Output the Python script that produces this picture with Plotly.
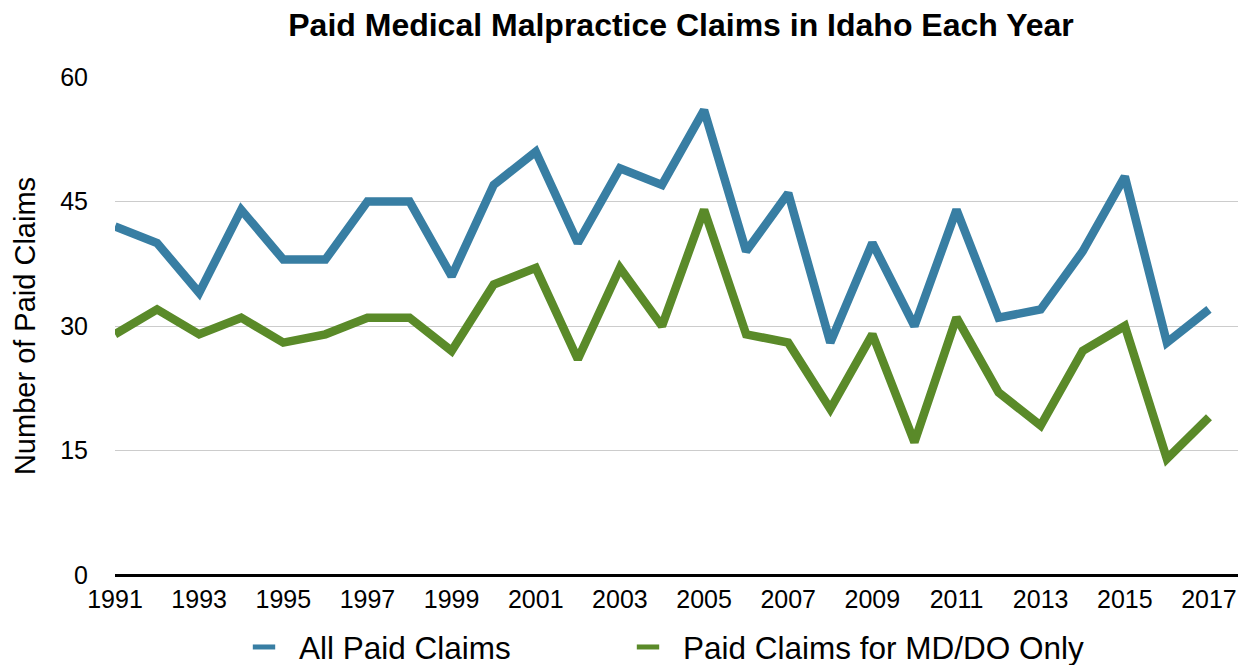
import plotly.graph_objects as go

years = list(range(1991, 2018))
all_claims = [42, 40, 34, 44, 38, 38, 45, 45, 36, 47, 51, 40, 49, 47, 56, 39, 46,
              28, 40, 30, 44, 31, 32, 39, 48, 28, 32]
md_do_claims = [29, 32, 29, 31, 28, 29, 31, 31, 27, 35, 37, 26, 37, 30, 44, 29, 28,
                20, 29, 16, 31, 22, 18, 27, 30, 14, 19]
y_ticks = [0, 15, 30, 45, 60]
x_ticks = list(range(1991, 2018, 2))

BLUE = "#387ea3"
GREEN = "#5a8a29"
FONT = "Liberation Sans, Arial, Helvetica, sans-serif"

fig = go.Figure()
fig.add_trace(go.Scatter(x=years, y=all_claims, mode="lines", name="All Paid Claims",
                         line=dict(color=BLUE, width=8.5), showlegend=False))
fig.add_trace(go.Scatter(x=years, y=md_do_claims, mode="lines", name="Paid Claims for MD/DO Only",
                         line=dict(color=GREEN, width=8.5), showlegend=False))
# legend entries (one legend box each, to place them like the reference)
for name, col, lg in [("All Paid Claims", BLUE, "legend"),
                      ("Paid Claims for MD/DO Only", GREEN, "legend2")]:
    fig.add_trace(go.Scatter(x=[None], y=[None], mode="markers", name=name, legend=lg,
                             marker=dict(symbol="line-ew", size=16, color=col,
                                         line=dict(color=col, width=5))))

legend_common = dict(orientation="h", xref="container", yref="container",
                     y=1 - 647 / 665, yanchor="middle", xanchor="left",
                     font=dict(family=FONT, size=31.5, color="black"),
                     itemwidth=60, bgcolor="rgba(0,0,0,0)")

fig.update_layout(
    width=1238, height=665,
    margin=dict(l=115, r=0, t=77, b=90),
    paper_bgcolor="white", plot_bgcolor="white",
    font=dict(family=FONT, color="black", size=25),
    title=dict(text="<b>Paid Medical Malpractice Claims in Idaho Each Year</b>",
               font=dict(family=FONT, size=32, color="black"),
               xref="container", x=681 / 1238, xanchor="center",
               yref="container", y=1 - 25 / 665, yanchor="middle"),
    showlegend=True,
    legend=dict(x=229 / 1238, **legend_common),
    legend2=dict(x=613 / 1238, **legend_common),
    xaxis=dict(range=[1991, 2017.69], tickmode="array", tickvals=x_ticks,
               ticktext=[str(v) for v in x_ticks], showgrid=False, zeroline=False,
               showline=False, ticks="", ticklabelstandoff=7,
               tickfont=dict(family=FONT, size=25, color="black")),
    yaxis=dict(range=[0, 60], tickmode="array", tickvals=y_ticks,
               showgrid=True, gridcolor="#cccccc", gridwidth=1,
               zeroline=True, zerolinecolor="black", zerolinewidth=3,
               showline=False, ticks="", ticklabelstandoff=26,
               tickfont=dict(family=FONT, size=25, color="black")),
)
fig.update_yaxes(title=dict(text="Number of Paid Claims", standoff=16,
                            font=dict(family=FONT, size=29, color="black")))

fig.write_html("out.html", config={"displayModeBar": False},
               post_script="document.body.style.margin='0';document.body.style.overflow='hidden';")
